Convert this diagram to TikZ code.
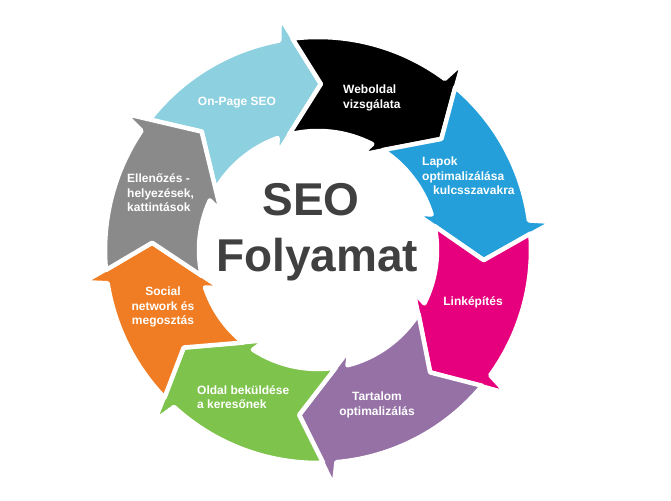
\documentclass[tikz,border=0pt]{standalone}
\usepackage{fontspec}
\setmainfont{Liberation Sans}
\definecolor{seoLightBlue}{RGB}{141,209,224}
\definecolor{seoBlue}{RGB}{36,159,218}
\definecolor{seoMagenta}{RGB}{230,0,126}
\definecolor{seoPurple}{RGB}{149,113,165}
\definecolor{seoGreen}{RGB}{126,195,76}
\definecolor{seoOrange}{RGB}{240,125,35}
\definecolor{seoGray}{RGB}{138,138,138}
\definecolor{seoText}{RGB}{64,64,64}
\begin{document}
\begin{tikzpicture}[
				x=1pt, y=1pt,
				stepshape/.style={draw=white, line width=4.5pt, line join=round},
				steplabel/.style={text=white, inner sep=0pt, font=\bfseries\fontsize{12}{14.5}\selectfont},
				titlelabel/.style={text=seoText, inner sep=0pt, font=\bfseries\fontsize{46}{56}\selectfont}
				]
				
				\useasboundingbox (0,0) rectangle (671,500);
				
				\begin{scope}[shift={(318,250)}]
					\foreach \s/\e/\col in {134.5/89/seoLightBlue, 89/42/black, 42/-3.5/seoBlue,
						-3.5/-47.5/seoMagenta, -47.5/-96.5/seoPurple, -96.5/-144/seoGreen,
						-144/-182.5/seoOrange, 177.5/134.5/seoGray}
					{
						\path[stepshape, fill=\col]
						(\s+7.9:213pt) arc[start angle=\s+7.9, end angle=\e+11.48, radius=213pt]
						-- ([rotate=\e]233pt,42.4pt) -- (\e:166pt) -- ([rotate=\e]95pt,42.4pt)
						-- (\e+20.87:119pt) arc[start angle=\e+20.87, end angle=\s+15.1, radius=119pt]
						-- (\s:166pt) -- cycle;
					}
				\end{scope}
				
				\node[steplabel] (onpage) at (237,397) {On-Page SEO};
				\node[steplabel, align=left, anchor=west] (weboldal) at (343,402) {Weboldal\\vizsgálata};
				\node[steplabel, align=left, anchor=west] (lapok) at (422,324) {Lapok\\optimalizálása\\\hspace*{11pt}kulcsszavakra};
				\node[steplabel] (linkepites) at (473,198) {Linképítés};
				\node[steplabel, align=center] (tartalom) at (377,95) {Tartalom\\optimalizálás};
				\node[steplabel, align=left, anchor=west] (oldal) at (197,103) {Oldal beküldése\\a keresőnek};
				\node[steplabel, align=center] (social) at (163,193) {Social\\network és\\megosztás};
				\node[steplabel, align=left, anchor=west] (ellenorzes) at (127,307) {Ellenőzés -\\helyezések,\\kattintások};
				
				\node[titlelabel, anchor=base] (seo) at (311,284) {SEO};
				\node[titlelabel, anchor=base] (folyamat) at (317,228) {Folyamat};
				
			\end{tikzpicture}
\end{document}
